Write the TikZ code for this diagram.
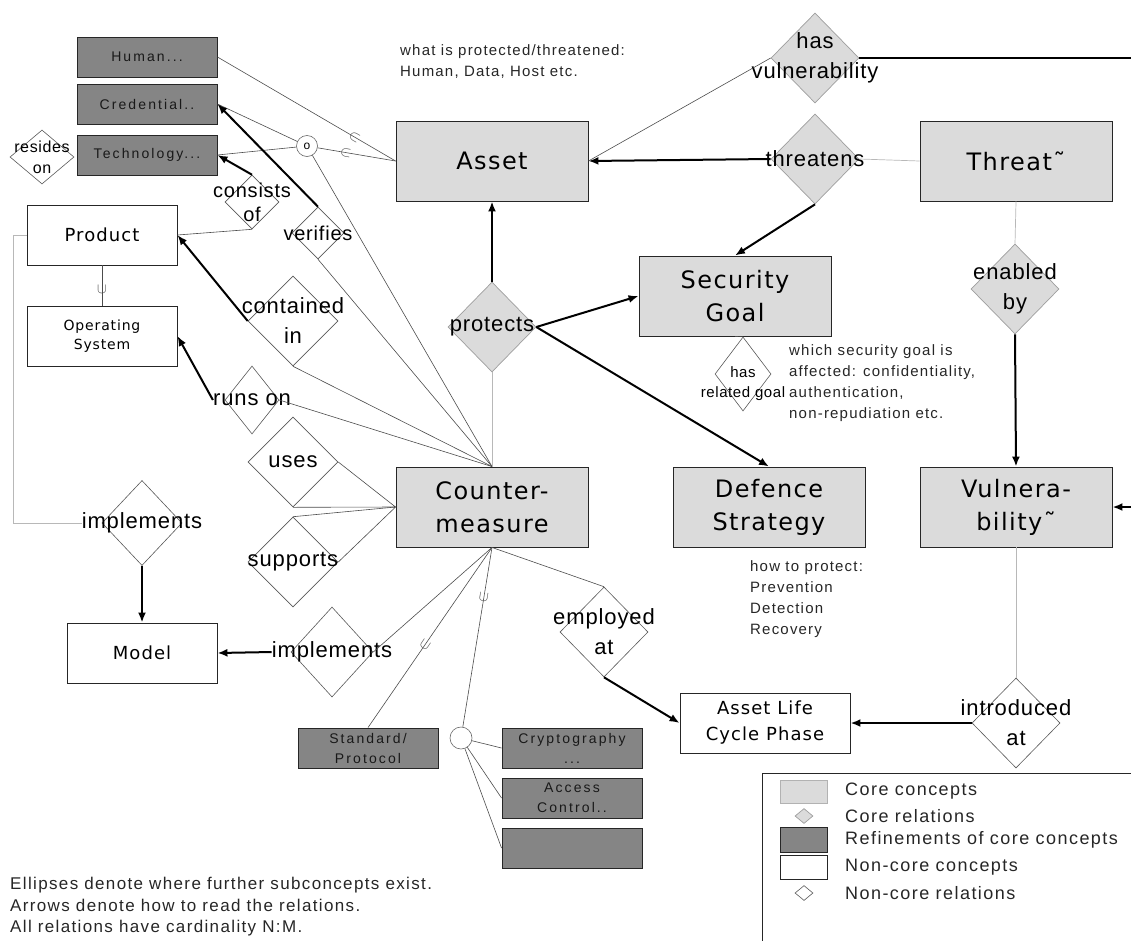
\documentclass[tikz,border=0pt]{standalone}
\usepackage{fontspec}
\setmainfont{Liberation Sans}
\newfontfamily\boxfont[LetterSpace=6]{DejaVu Sans}
\newfontfamily\relfont[LetterSpace=4]{Liberation Sans}
\newfontfamily\notefont[LetterSpace=8]{Liberation Sans}
\newfontfamily\reffont[LetterSpace=15]{Liberation Sans}
\usetikzlibrary{arrows.meta, shapes.geometric}
\definecolor{coregray}{gray}{0.86}
\definecolor{refgray}{gray}{0.52}
\definecolor{edgegray}{gray}{0.62}
\definecolor{faintgray}{gray}{0.72}
\tikzset{
  every picture/.style={>={Latex[length=10pt, width=8pt]}},
  every label/.style={align=center, inner sep=0pt, font=\relfont\fontsize{22}{30}\selectfont},
  core/.style={draw=black!85, fill=coregray, line width=.9pt, minimum width=192pt, minimum height=80pt,
               inner sep=0pt, align=center, font=\boxfont\fontsize{24}{33}\selectfont},
  refn/.style={draw=black!85, fill=refgray, line width=.9pt, minimum width=140pt, minimum height=40pt,
               inner sep=0pt, align=center, text=black!90, font=\reffont\fontsize{14}{20}\selectfont},
  plain/.style={draw=black!85, fill=white, line width=.9pt, minimum width=150pt, minimum height=60pt,
               inner sep=0pt, align=center, font=\boxfont\fontsize{18}{26}\selectfont},
  corerel/.style={diamond, draw=edgegray, fill=coregray, line width=.7pt, inner sep=0pt,
               minimum width=88pt, minimum height=90pt},
  rel/.style={diamond, draw=black!65, fill=white, line width=.6pt, inner sep=0pt,
               minimum width=90pt, minimum height=90pt},
  ring/.style={circle, draw=black!60, fill=white, line width=.6pt, inner sep=0pt, minimum size=21pt},
  note/.style={anchor=north west, align=left, inner sep=0pt, text=black!85,
               font=\notefont\fontsize{15}{21}\selectfont},
  key/.style={anchor=west, inner sep=0pt, text=black!85, font=\notefont\fontsize{18}{22}\selectfont},
  subm/.style={inner sep=0pt, text=black!70, font=\fontsize{14}{14}\selectfont},
  lin/.style={draw=black!70, line width=.6pt},
  faint/.style={draw=faintgray, line width=.7pt},
  thk/.style={draw=black, line width=2pt},
  arr/.style={thk, ->},
}

\begin{document}
\begin{tikzpicture}[x=1pt, y=-1pt]
  \useasboundingbox (0,0) rectangle (1131,940);

  % core concepts
  \node[core] (asset) at (492,161) {Asset};
  \node[core] (threat) at (1016,161) {Threat˜};
  \node[core] (goal) at (735,296) {Security\\Goal};
  \node[core] (cm) at (492,507) {Counter-\\measure};
  \node[core] (defence) at (769,507) {Defence\\Strategy};
  \node[core] (vuln) at (1016,507) {Vulnera-\\bility˜};

  % refinements of core concepts
  \node[refn] (human) at (147,57) {Human...};
  \node[refn] (cred) at (147,104) {Credential..};
  \node[refn] (tech) at (147,155) {Technology...};
  \node[refn] (std) at (368,748) {Standard/\\Protocol};
  \node[refn] (crypto) at (572,748) {Cryptography\\...};
  \node[refn] (access) at (572,798) {Access\\Control..};
  \node[refn] (more) at (572,848) {};

  % non-core concepts
  \node[plain] (product) at (102,235) {Product};
  \node[plain, font=\boxfont\fontsize{14}{19}\selectfont] (os) at (102,336) {Operating\\System};
  \node[plain] (model) at (142,653) {Model};
  \node[plain, minimum width=170pt] (phase) at (765,723) {Asset Life\\Cycle Phase};

  % core relations
  \node[corerel, label=center:{has\\vulnerability}] (hasvul) at (815,58) {};
  \node[corerel, label=center:{threatens}] (threatens) at (815,159) {};
  \node[corerel, label=center:{protects}] (protects) at (492,327) {};
  \node[corerel, label=center:{enabled\\by}] (enabled) at (1015,289) {};

  % non-core relations
  \node[rel, minimum width=64pt, minimum height=54pt,
        label={[font=\relfont\fontsize{16}{21}\selectfont]center:{resides\\on}}] (resides) at (42,157) {};
  \node[rel, minimum width=54pt, minimum height=54pt,
        label={[font=\relfont\fontsize{20}{24}\selectfont]center:{consists\\of}}] (consists) at (252,202) {};
  \node[rel, minimum width=52pt, minimum height=52pt,
        label={[font=\relfont\fontsize{20}{24}\selectfont]center:{verifies}}] (verifies) at (318,233) {};
  \node[rel, label=center:{contained\\in}] (contained) at (293,321) {};
  \node[rel, minimum width=54pt, minimum height=68pt,
        label={[name=runsont]center:{runs on}}] (runson) at (252,400) {};
  \node[rel, label=center:{uses}] (uses) at (293,462) {};
  \node[rel, label=center:{supports}] (supports) at (293,562) {};
  \node[rel, minimum width=80pt, minimum height=85pt,
        label={[name=implAt]center:{implements}}] (implA) at (142,523) {};
  \node[rel, minimum width=82pt, label={[name=implBt]center:{implements}}] (implB) at (332,652) {};
  \node[rel, minimum width=88pt, label=center:{employed\\at}] (employed) at (604,632) {};
  \node[rel, minimum width=88pt, label=center:{introduced\\at}] (introduced) at (1016,723) {};
  \node[rel, minimum width=56pt, minimum height=74pt,
        label={[font=\relfont\fontsize{15}{20}\selectfont, yshift=-10pt]center:{has\\related goal}}] (hasgoal) at (743,374) {};

  % set operators
  \node[ring, font=\fontsize{12}{12}\selectfont] (oa) at (307,146) {o};
  \node[ring, minimum size=22pt] (oc) at (461,738) {};

  \coordinate (offA) at (1131,58);
  \coordinate (offB) at (1131,507);
  \coordinate (bend) at (13,523);

  % subconcepts
  \draw[lin] (human.east) -- node[subm, pos=.77, rotate=-30] (s1) {$\subset$} (asset.west);
  \draw[lin] (oa) -- node[subm, pos=.36, rotate=-10] (s2) {$\subset$} (asset.west);
  \draw[lin] (cred.east) -- (oa);
  \draw[lin] (tech.east) -- (oa);
  \draw[lin] (product) -- node[subm, pos=.6] (u0) {$\cup$} (os);
  \draw[lin] (cm.south) -- node[subm, pos=.54, rotate=-34] (u1) {$\cup$} (std.north);
  \draw[lin] (cm.south) -- node[subm, pos=.28, rotate=-9] (u2) {$\cup$} (oc);
  \foreach \b in {crypto, access, more} \draw[lin] (oc) -- (\b.west);

  % counter-measure links
  \foreach \r in {oa, verifies.south, contained.south, runson.east} \draw[lin] (\r) -- (cm.north);
  \draw[lin] (uses.east) -- (cm.west) -- (uses.south);
  \draw[lin] (supports.north) -- (cm.west) -- (supports.east);
  \draw[lin] (implB.east) -- (cm.south);
  \draw[lin] (cm.south) -- (employed.north);
  \draw[faint] (protects.south) -- (cm.north);
  \draw[lin] (goal.south) -- (hasgoal.north);

  % reading direction
  \draw[arr] (threatens.west) -- (asset.east);
  \draw[lin] (hasvul.west) -- (asset.east);
  \draw[faint] (threatens.east) -- (threat.west);
  \draw[arr] (threatens.south) -- (goal.north);
  \draw[thk] (hasvul.east) -- (offA);
  \draw[arr] (offB) -- (vuln.east);
  \draw[faint] (threat.south) -- (enabled.north);
  \draw[arr] (enabled.south) -- (vuln.north);
  \draw[faint] (vuln.south) -- (introduced.north);
  \draw[arr] (introduced.west) -- (phase.east);
  \draw[arr] (employed.south) -- (phase.west);
  \draw[arr] (protects.north) -- (asset.south);
  \draw[arr] (protects.east) -- (goal.west);
  \draw[arr] (protects.east) -- (defence.north);
  \draw[arr] (consists.north) -- (tech.east);
  \draw[lin] (consists.south) -- (product.east);
  \draw[arr] (verifies.north) -- (cred.east);
  \draw[arr] (contained.west) -- (product.east);
  \draw[arr] (runsont.west) -- (os.east);
  \draw[faint] (implAt.west) -- (bend) |- (product.west);
  \draw[arr] (implA.south) -- (model.north);
  \draw[arr] (implBt.west) -- (model.east);

  % notes
  \node[note] (noteA) at (400,44) {what is protected/threatened:\\Human, Data, Host etc.};
  \node[note] (noteG) at (789,344) {which security goal is\\affected: confidentiality,\\authentication,\\non-repudiation etc.};
  \node[note] (noteD) at (750,560) {how to protect:\\Prevention\\Detection\\Recovery};
  \node[note, font=\notefont\fontsize{17}{21.5}\selectfont] (noteB) at (10,877)
    {Ellipses denote where further subconcepts exist.\\Arrows denote how to read the relations.\\All relations have cardinality N:M.};

  % legend
  \node[draw=black!85, line width=.9pt, minimum width=400pt, minimum height=220pt, anchor=north west, inner sep=0pt] (legend) at (762,773) {};
  \node[core, draw=black!30, minimum width=47pt, minimum height=23pt] (k1) at (804,792) {};
  \node[corerel, minimum width=18pt, minimum height=15pt] (k2) at (804,816) {};
  \node[refn, minimum width=47pt, minimum height=25pt] (k3) at (804,840) {};
  \node[plain, minimum width=47pt, minimum height=24pt] (k4) at (804,867) {};
  \node[rel, minimum width=18pt, minimum height=15pt] (k5) at (804,893) {};
  \node[key] (t1) at (845,791) {Core concepts};
  \node[key] (t2) at (845,816) {Core relations};
  \node[key] (t3) at (845,840) {Refinements of core concepts};
  \node[key] (t4) at (845,867) {Non-core concepts};
  \node[key] (t5) at (845,893) {Non-core relations};
\end{tikzpicture}
\end{document}
